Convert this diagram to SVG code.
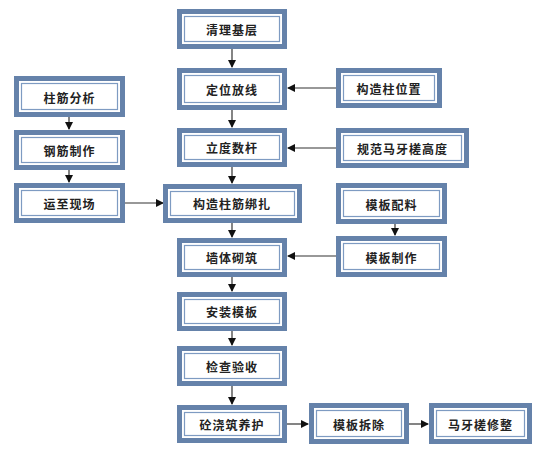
<svg xmlns="http://www.w3.org/2000/svg" width="543" height="456" viewBox="0 0 543 456">
<style>
.o{fill:#fff;stroke:#6582aa;stroke-width:5}
.i{fill:#fff;stroke:#7e9bc2;stroke-width:1.2}
text{font-family:"Noto Sans CJK SC","Noto Sans",sans-serif;font-size:12px;font-weight:bold;fill:#222;text-anchor:middle;dominant-baseline:central;letter-spacing:1px}
.c line{stroke:#333;stroke-width:1.2}
</style>
<defs>
<marker id="a" markerWidth="8" markerHeight="8" refX="7" refY="4" orient="auto" markerUnits="userSpaceOnUse">
<path d="M0,0 L8,4 L0,8 z" fill="#111"/>
</marker>
</defs>
<rect width="543" height="456" fill="#fff"/>
<g class="c">
<line x1="232" y1="49" x2="232" y2="67" marker-end="url(#a)"/>
<line x1="232" y1="110" x2="232" y2="127" marker-end="url(#a)"/>
<line x1="232" y1="167" x2="232" y2="183" marker-end="url(#a)"/>
<line x1="232" y1="223" x2="232" y2="237" marker-end="url(#a)"/>
<line x1="232" y1="277" x2="232" y2="291" marker-end="url(#a)"/>
<line x1="232" y1="331" x2="232" y2="345" marker-end="url(#a)"/>
<line x1="232" y1="386" x2="232" y2="404" marker-end="url(#a)"/>
<line x1="69" y1="117" x2="69" y2="129" marker-end="url(#a)"/>
<line x1="69" y1="170" x2="69" y2="182" marker-end="url(#a)"/>
<line x1="125" y1="203" x2="163" y2="203" marker-end="url(#a)"/>
<line x1="336" y1="88" x2="288" y2="88" marker-end="url(#a)"/>
<line x1="336" y1="148" x2="288" y2="148" marker-end="url(#a)"/>
<line x1="336" y1="256" x2="288" y2="256" marker-end="url(#a)"/>
<line x1="395" y1="224" x2="395" y2="235" marker-end="url(#a)"/>
<line x1="287" y1="424" x2="308" y2="424" marker-end="url(#a)"/>
<line x1="409" y1="424" x2="428" y2="424" marker-end="url(#a)"/>
</g>
<g id="n1"><rect class="o" x="179.5" y="11.5" width="105" height="35"/><rect class="i" x="184.5" y="16.5" width="95" height="25"/><text x="232" y="29">清理基层</text></g>
<g id="n2"><rect class="o" x="179.5" y="70.5" width="105" height="37"/><rect class="i" x="184.5" y="75.5" width="95" height="27"/><text x="232" y="89">定位放线</text></g>
<g id="n3"><rect class="o" x="179.5" y="130.5" width="105" height="34"/><rect class="i" x="184.5" y="135.5" width="95" height="24"/><text x="232" y="147.5">立度数杆</text></g>
<g id="n4"><rect class="o" x="165.5" y="186.5" width="134" height="34"/><rect class="i" x="170.5" y="191.5" width="124" height="24"/><text x="232" y="203.5">构造柱筋绑扎</text></g>
<g id="n5"><rect class="o" x="179.5" y="240.5" width="105" height="34"/><rect class="i" x="184.5" y="245.5" width="95" height="24"/><text x="232" y="257.5">墙体砌筑</text></g>
<g id="n6"><rect class="o" x="179.5" y="294.5" width="105" height="34"/><rect class="i" x="184.5" y="299.5" width="95" height="24"/><text x="232" y="311.5">安装模板</text></g>
<g id="n7"><rect class="o" x="179.5" y="348.5" width="105" height="35"/><rect class="i" x="184.5" y="353.5" width="95" height="25"/><text x="232" y="366">检查验收</text></g>
<g id="n8"><rect class="o" x="179.5" y="407.5" width="105" height="33"/><rect class="i" x="184.5" y="412.5" width="95" height="23"/><text x="232" y="424">砼浇筑养护</text></g>
<g id="n9"><rect class="o" x="311.5" y="405.5" width="95" height="36"/><rect class="i" x="316.5" y="410.5" width="85" height="26"/><text x="359" y="424">模板拆除</text></g>
<g id="n10"><rect class="o" x="431.5" y="405.5" width="98" height="36"/><rect class="i" x="436.5" y="410.5" width="88" height="26"/><text x="480.5" y="424">马牙槎修整</text></g>
<g id="l1"><rect class="o" x="16.5" y="78.5" width="106" height="36"/><rect class="i" x="21.5" y="83.5" width="96" height="26"/><text x="69.5" y="97">柱筋分析</text></g>
<g id="l2"><rect class="o" x="16.5" y="132.5" width="106" height="35"/><rect class="i" x="21.5" y="137.5" width="96" height="25"/><text x="69.5" y="150.5">钢筋制作</text></g>
<g id="l3"><rect class="o" x="16.5" y="185.5" width="106" height="35"/><rect class="i" x="21.5" y="190.5" width="96" height="25"/><text x="69.5" y="203.5">运至现场</text></g>
<g id="r1"><rect class="o" x="338.5" y="70.5" width="101" height="35"/><rect class="i" x="343.5" y="75.5" width="91" height="25"/><text x="389" y="88.5">构造柱位置</text></g>
<g id="r2"><rect class="o" x="338.5" y="130.5" width="128" height="35"/><rect class="i" x="343.5" y="135.5" width="118" height="25"/><text x="402.5" y="148.5">规范马牙槎高度</text></g>
<g id="r3"><rect class="o" x="338.5" y="185.5" width="106" height="36"/><rect class="i" x="343.5" y="190.5" width="96" height="26"/><text x="391.5" y="204">模板配料</text></g>
<g id="r4"><rect class="o" x="338.5" y="238.5" width="106" height="36"/><rect class="i" x="343.5" y="243.5" width="96" height="26"/><text x="391.5" y="257">模板制作</text></g>
</svg>
